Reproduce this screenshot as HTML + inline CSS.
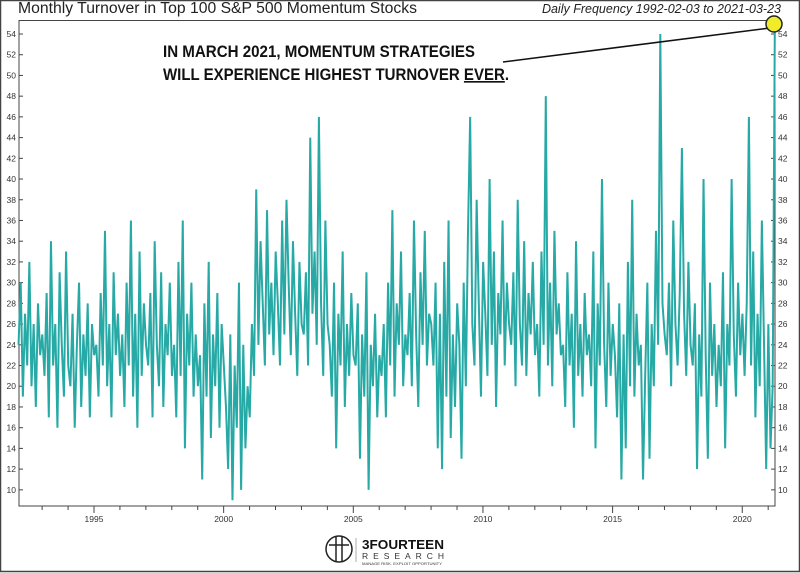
<!DOCTYPE html>
<html><head><meta charset="utf-8"><style>
html,body{margin:0;padding:0;background:#fff;}
svg{display:block;font-family:"Liberation Sans",sans-serif;}
</style></head><body>
<svg id="chart" width="800" height="573" viewBox="0 0 800 573" xmlns="http://www.w3.org/2000/svg">
<rect x="0.5" y="0.5" width="799" height="571" fill="#fff" stroke="#444" stroke-width="1.5"/>
<text x="18" y="13" font-size="15.5" fill="#222" textLength="399" lengthAdjust="spacingAndGlyphs">Monthly Turnover in Top 100 S&amp;P 500 Momentum Stocks</text>
<text x="781" y="13" font-size="12.5" font-style="italic" fill="#222" text-anchor="end">Daily Frequency 1992-02-03 to 2021-03-23</text>
<rect x="19" y="20.5" width="756" height="485.5" fill="none" stroke="#444" stroke-width="1"/>
<g id="axes"></g>
<g id="series"></g>
<line x1="503" y1="62" x2="770" y2="28" stroke="#111" stroke-width="1.5"/>
<circle cx="774" cy="24" r="8" fill="#f0ec2a" stroke="#222" stroke-width="1.5"/>
<text x="163" y="57" font-size="16.5" font-weight="bold" fill="#111" textLength="312" lengthAdjust="spacingAndGlyphs">IN MARCH 2021, MOMENTUM STRATEGIES</text>
<text x="163" y="80" font-size="16.5" font-weight="bold" fill="#111" textLength="346" lengthAdjust="spacingAndGlyphs">WILL EXPERIENCE HIGHEST TURNOVER <tspan text-decoration="underline">EVER</tspan>.</text>
<g>
<circle cx="339" cy="549" r="13" fill="none" stroke="#222" stroke-width="1.5"/>
<line x1="336" y1="537" x2="336" y2="561" stroke="#222" stroke-width="1.5"/>
<line x1="342" y1="537" x2="342" y2="561" stroke="#222" stroke-width="1.5"/>
<line x1="329" y1="545" x2="349" y2="545" stroke="#222" stroke-width="1.5"/>
<line x1="356" y1="538" x2="356" y2="562" stroke="#999" stroke-width="0.8"/>
<text x="362" y="549" font-size="13" font-weight="bold" fill="#111" textLength="82" lengthAdjust="spacingAndGlyphs">3FOURTEEN</text>
<text x="362" y="559" font-size="8.5" fill="#333" textLength="82" lengthAdjust="spacing">RESEARCH</text>
<text x="362" y="565" font-size="3.5" fill="#333" textLength="80" lengthAdjust="spacingAndGlyphs">MANAGE RISK. EXPLOIT OPPORTUNITY</text>
</g>
</svg>
<script>
const startYear = 1992.09;
const stepYears = 1/12;
const turnover = [
24,30,19,27,22,32,20,26,18,28,23,25,
21,29,17,34,22,26,16,31,24,19,33,22,
20,27,16,24,30,18,25,21,28,17,26,23,
24,19,29,22,35,20,26,17,31,23,27,21,
25,18,30,22,36,19,27,16,33,21,28,24,
22,29,17,34,24,20,31,18,26,23,30,21,
24,17,32,21,36,14,27,22,30,19,25,20,
23,11,28,19,32,15,25,20,29,16,26,22,
18,12,25,9,22,16,30,10,24,14,20,17,
26,21,39,24,34,28,22,37,25,30,23,33,
28,22,36,25,38,30,23,34,27,21,32,26,
25,31,22,44,27,33,24,46,28,21,36,26,
24,19,30,14,27,22,33,18,26,21,29,23,
22,28,13,25,19,31,10,24,20,27,17,23,
21,26,17,30,22,37,19,28,24,33,20,25,
23,29,20,36,25,18,31,24,35,22,27,26,
22,30,14,27,12,32,19,36,15,25,18,28,
24,13,30,20,35,46,26,22,38,28,19,32,
27,21,40,24,33,18,29,25,36,22,30,26,
24,31,20,38,26,22,34,21,29,25,32,23,
26,19,33,24,48,22,30,20,35,25,28,23,
24,18,31,22,27,16,34,21,26,19,29,23,
25,20,33,14,28,22,40,24,18,30,21,26,
23,17,28,11,25,14,32,20,38,19,27,22,
24,11,21,30,13,26,20,35,24,54,28,25,
23,30,20,36,26,22,29,43,27,21,32,24,
22,28,12,25,19,40,23,13,30,21,26,18,
24,20,31,14,26,22,40,25,19,30,23,27,
21,28,46,22,33,17,27,20,36,24,12,26,
14,20,55
];
const yTicks = [10,12,14,16,18,20,22,24,26,28,30,32,34,36,38,40,42,44,46,48,50,52,54];
const xLabelYears = [1995,2000,2005,2010,2015,2020];
const xMinorYears = [1993,1994,1995,1996,1997,1998,1999,2000,2001,2002,2003,2004,2005,2006,2007,2008,2009,2010,2011,2012,2013,2014,2015,2016,2017,2018,2019,2020,2021];

const NS = "http://www.w3.org/2000/svg";
function xScale(t){ return 94 + (t-1995)*25.93; }
function yScale(v){ return 34 + (54-v)*10.36; }
function mk(tag, attrs, parent){ const e=document.createElementNS(NS,tag); for(const k in attrs) e.setAttribute(k,attrs[k]); parent.appendChild(e); return e; }

const axes = document.getElementById('axes');
yTicks.forEach(v=>{
  const y = yScale(v);
  const tl = mk('line',{x1:19,y1:y,x2:23,y2:y,stroke:'#444','stroke-width':1},axes);
  
  
  const tr = mk('line',{x1:771,y1:y,x2:775,y2:y,stroke:'#444','stroke-width':1},axes);
  
  
  const l = mk('text',{x:16,y:y+3,'font-size':8.5,fill:'#333','text-anchor':'end'},axes);
  l.textContent = v;
  
  
  const r = mk('text',{x:778,y:y+3,'font-size':8.5,fill:'#333'},axes);
  r.textContent = v;
  
  
});
xMinorYears.forEach(yr=>{
  const x = xScale(yr);
  const t = mk('line',{x1:x,y1:506,x2:x,y2:xLabelYears.includes(yr)?513:510,stroke:'#444','stroke-width':1},axes);
  
  
});
xLabelYears.forEach(yr=>{
  const t = mk('text',{x:xScale(yr),y:522,'font-size':8.5,fill:'#333','text-anchor':'middle'},axes);
  t.textContent = yr;
  
  
});

const series = document.getElementById('series');
let d = '';
turnover.forEach((v,i)=>{
  const x = xScale(startYear + i*stepYears), y = yScale(v);
  d += (i? 'L':'M') + x.toFixed(2) + ' ' + y.toFixed(2);
});
const p = mk('path',{d:d,fill:'none',stroke:'#27a9a5','stroke-width':2,'stroke-linejoin':'miter'},series);


</script>
</body></html>
